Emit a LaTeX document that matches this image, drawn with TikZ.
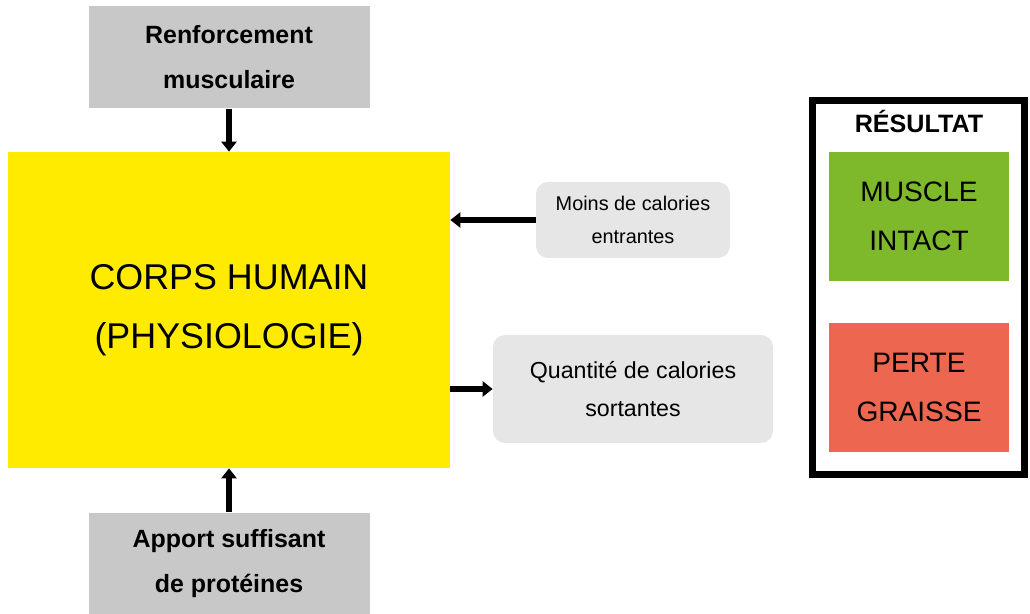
\documentclass[tikz,border=0pt]{standalone}
\usepackage{fontspec}
\setmainfont{Liberation Sans}
\usepackage{tikz}
\usetikzlibrary{arrows.meta,positioning}
\definecolor{corpsyellow}{HTML}{FFEB00}
\definecolor{boxgray}{HTML}{C8C8C8}
\definecolor{sidegray}{HTML}{E6E6E6}
\definecolor{resgreen}{HTML}{7DB92A}
\definecolor{resred}{HTML}{EC6650}
\tikzset{
  mainbox/.style={fill=corpsyellow, align=center, minimum width=8.84cm, minimum height=6.32cm, font=\fontsize{20.4}{33.6}\selectfont},
  inbox/.style={fill=boxgray, align=center, minimum width=5.62cm, minimum height=2.04cm, font=\bfseries\fontsize{14.2}{25.5}\selectfont},
  sidebox/.style={rounded corners=0.24cm, fill=sidegray, align=center},
  resbox/.style={align=center, minimum width=3.6cm, minimum height=2.58cm, font=\fontsize{16}{27.8}\selectfont},
  arrow/.style={-{Triangle[length=0.2cm, width=0.3cm]}, line width=0.12cm}
}

\begin{document}
\begin{tikzpicture}
  \useasboundingbox (0,0) rectangle (20.6,-12.28);

  \node[mainbox] (corps) at (4.58,-6.2) {CORPS HUMAIN\\(PHYSIOLOGIE)};
  \node[inbox, above=0.86cm of corps] (renfo) {Renforcement\\musculaire};
  \node[inbox, below=0.88cm of corps] (apport) {Apport suffisant\\de protéines};
  \node[sidebox, minimum width=3.88cm, minimum height=1.52cm, font=\fontsize{11.3}{18.4}\selectfont] (moins) at (12.66,-4.4) {Moins de calories\\entrantes};
  \node[sidebox, minimum width=5.6cm, minimum height=2.16cm, font=\fontsize{13.2}{21.5}\selectfont] (sortie) at (12.66,-7.78) {Quantité de calories\\sortantes};

  \draw[arrow] (renfo) -- (corps);
  \draw[arrow] (apport) -- (corps);
  \draw[arrow] (moins.west) -- (moins.west -| corps.east);
  \draw[arrow] (sortie.west -| corps.east) -- (sortie.west);

  % resultat
  \node[draw, line width=0.14cm, minimum width=4.24cm, minimum height=7.48cm] (res) at (18.37,-5.75) {};
  \node[anchor=base, font=\bfseries\fontsize{14.3}{16}\selectfont] (titre) at (18.38,-2.66) {RÉSULTAT};
  \node[resbox, fill=resgreen] (muscle) at (18.38,-4.33) {MUSCLE\\INTACT};
  \node[resbox, fill=resred, below=0.82cm of muscle] (perte) {PERTE\\GRAISSE};
\end{tikzpicture}
\end{document}
